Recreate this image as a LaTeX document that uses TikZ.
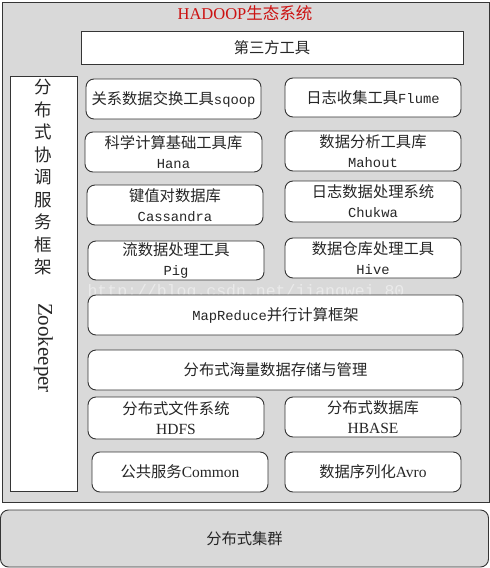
\documentclass[tikz,border=0pt]{standalone}
\usepackage{fontspec}
\setmainfont{Liberation Serif}
\newfontfamily\cjk{Noto Sans CJK SC}
\newfontfamily\monof{Liberation Mono}
\definecolor{bggray}{HTML}{D9D9D9}
\definecolor{edge}{HTML}{353535}
\definecolor{titlered}{HTML}{CC1111}
\definecolor{wmark}{HTML}{EAEAEA}
\definecolor{txt}{HTML}{262626}
\begin{document}
\begin{tikzpicture}[x=1pt,y=-1pt,
  sqbox/.style={draw=edge,line width=0.9pt,fill=white,rectangle,inner sep=0pt},
  rbox/.style={draw=edge,line width=0.9pt,fill=white,rectangle,rounded corners=8pt,inner sep=0pt,align=center,
    text=txt,font=\cjk\fontsize{15.3}{20}\selectfont},
]
\useasboundingbox (0,0) rectangle (490,568);
% outer frame
\node[sqbox,fill=bggray,minimum width=487pt,minimum height=500pt] (outer) at (245.5,252) {};
\node[text=titlered,font=\fontsize{16.5}{18}\selectfont] (title) at (245,13) {HADOOP{\cjk 生态系统}};
% watermark
\node[text=wmark,font=\monof\fontsize{16.5}{18}\selectfont,inner sep=0pt] (wm) at (246,292) {http://blog.csdn.net/jiangwei\_80};
% third party
\node[sqbox,minimum width=382pt,minimum height=33pt,text=txt,font=\cjk\fontsize{15.3}{18}\selectfont] (third) at (272,47.5) {第三方工具};
% zookeeper column
\node[sqbox,minimum width=67pt,minimum height=415pt] (zk) at (43.5,283.5) {};
\node[align=center,inner sep=0pt,text=txt,font=\cjk\fontsize{17.5}{22.5}\selectfont] (zkcn) at (43.5,177.5)
  {分\\布\\式\\协\\调\\服\\务\\框\\架};
\node[rotate=-90,inner sep=0pt,text=txt,font=\fontsize{21}{22}\selectfont] (zken) at (43.5,348) {Zookeeper};
% tool boxes
\node[rbox,minimum width=175pt,minimum height=40pt] (sqoop) at (173.5,99) {关系数据交换工具{\monof\fontsize{13.8}{20}\selectfont sqoop}};
\node[rbox,minimum width=176pt,minimum height=39pt] (flume) at (373,97.5) {日志收集工具{\monof\fontsize{13.8}{20}\selectfont Flume}};
\node[rbox,minimum width=177pt,minimum height=40pt] (hana) at (173.5,152) {科学计算基础工具库\\{\monof\fontsize{13.8}{20}\selectfont Hana}};
\node[rbox,minimum width=176pt,minimum height=40pt] (mahout) at (373,151) {数据分析工具库\\{\monof\fontsize{13.8}{20}\selectfont Mahout}};
\node[rbox,minimum width=176pt,minimum height=40pt] (cass) at (175,205) {键值对数据库\\{\monof\fontsize{13.8}{20}\selectfont Cassandra}};
\node[rbox,minimum width=176pt,minimum height=41pt] (chukwa) at (373,201.5) {日志数据处理系统\\{\monof\fontsize{13.8}{20}\selectfont Chukwa}};
\node[rbox,minimum width=176pt,minimum height=39pt] (pig) at (176,260.5) {流数据处理工具\\{\monof\fontsize{13.8}{20}\selectfont Pig}};
\node[rbox,minimum width=176pt,minimum height=40pt] (hive) at (373,258) {数据仓库处理工具\\{\monof\fontsize{13.8}{20}\selectfont Hive}};
\node[rbox,minimum width=375pt,minimum height=40pt] (mr) at (275.5,315) {{\monof\fontsize{13.8}{20}\selectfont MapReduce}并行计算框架};
\node[rbox,minimum width=375pt,minimum height=40pt] (store) at (275.5,370) {分布式海量数据存储与管理};
\node[rbox,minimum width=176pt,minimum height=42pt] (hdfs) at (176,418) {分布式文件系统\\{\rmfamily\fontsize{15.5}{20}\selectfont HDFS}};
\node[rbox,minimum width=176pt,minimum height=40pt] (hbase) at (373,417) {分布式数据库\\{\rmfamily\fontsize{15.5}{20}\selectfont HBASE}};
\node[rbox,minimum width=176pt,minimum height=40pt] (common) at (180,472) {公共服务{\rmfamily\fontsize{15.5}{20}\selectfont Common}};
\node[rbox,minimum width=176pt,minimum height=40pt] (avro) at (373,472) {数据序列化{\rmfamily\fontsize{15.5}{20}\selectfont Avro}};
% cluster
\node[rbox,fill=bggray,minimum width=488pt,minimum height=57pt] (cluster) at (244.5,538.5) {分布式集群};
\end{tikzpicture}
\end{document}
